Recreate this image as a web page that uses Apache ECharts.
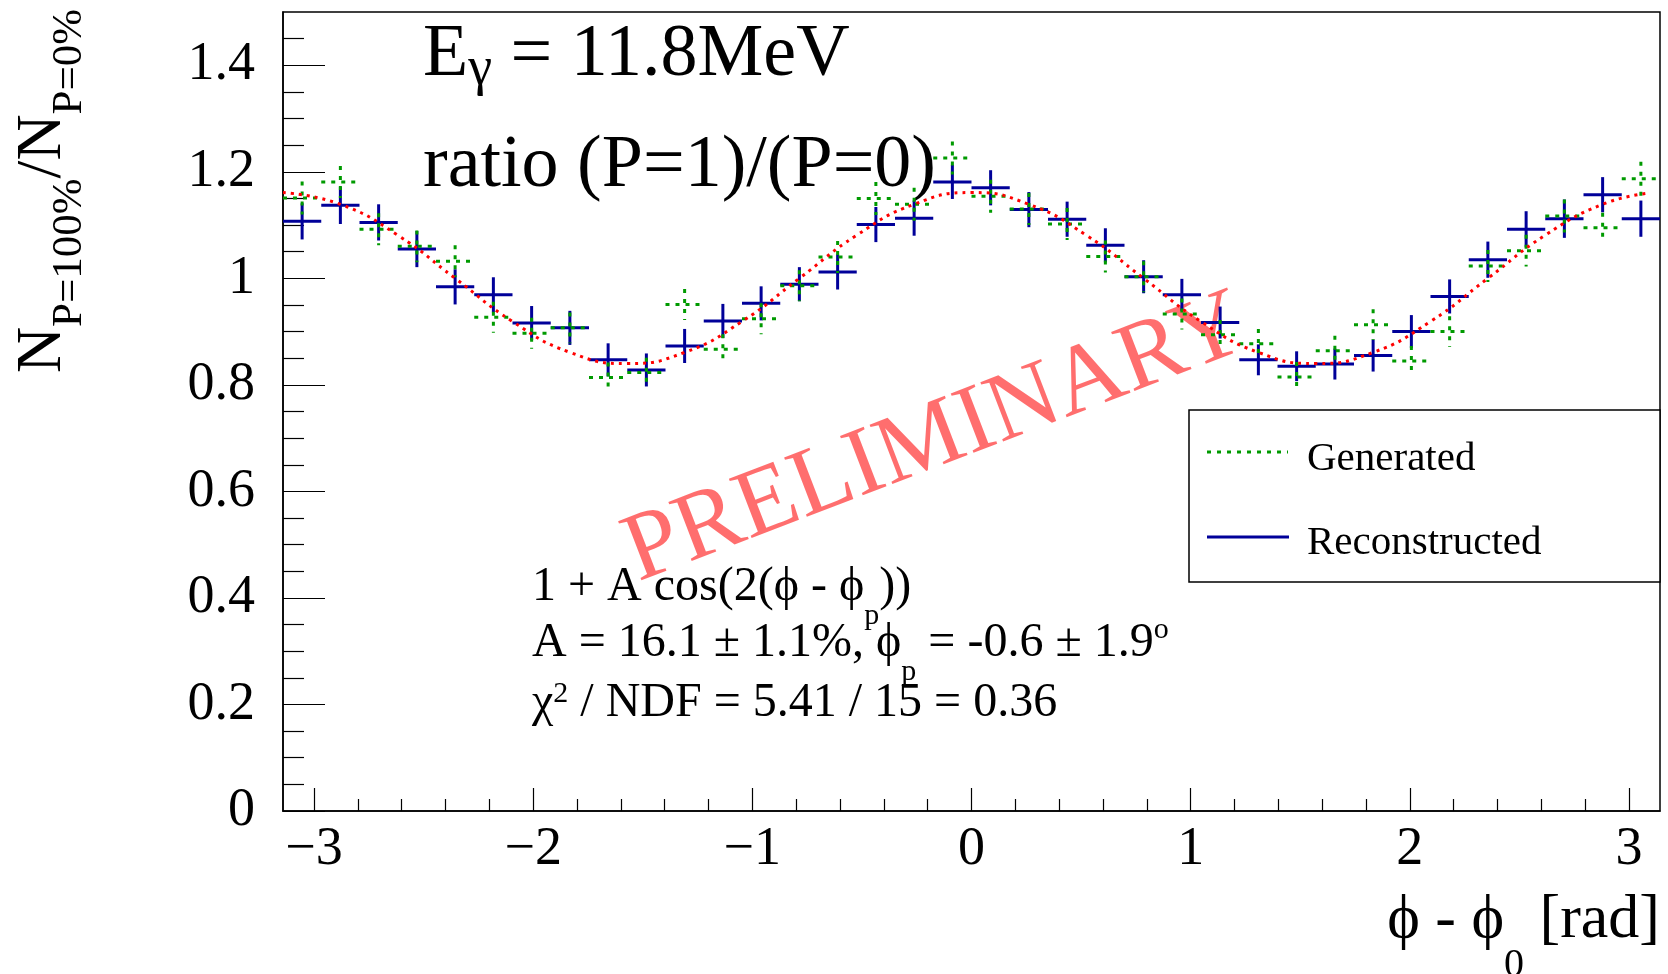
<!DOCTYPE html>
<html>
<head>
<meta charset="utf-8">
<script src="https://cdn.jsdelivr.net/npm/echarts@6/dist/echarts.min.js"></script>
<style>
  html, body { margin: 0; padding: 0; background: #fff; }
  #chart { width: 1668px; height: 974px; }
</style>
</head>
<body>
<div id="chart"></div>
<script>
// bin centres in degrees (36 bins of 10 deg)
var binDeg = [-175, -165, -155, -145, -135, -125, -115, -105, -95, -85, -75, -65,
  -55, -45, -35, -25, -15, -5, 5, 15, 25, 35, 45, 55,
  65, 75, 85, 95, 105, 115, 125, 135, 145, 155, 165, 175];
var binWidthDeg = 10;

// Reconstructed (blue)
var recVal = [1.107, 1.137, 1.105, 1.055, 0.984, 0.969, 0.916, 0.907, 0.847, 0.828, 0.873, 0.920,
  0.953, 0.989, 1.012, 1.101, 1.113, 1.181, 1.170, 1.129, 1.111, 1.062, 1.003, 0.969,
  0.917, 0.847, 0.835, 0.839, 0.855, 0.900, 0.966, 1.035, 1.092, 1.112, 1.157, 1.112];
var recErr = [0.034, 0.035, 0.034, 0.034, 0.033, 0.033, 0.032, 0.032, 0.031, 0.031, 0.032, 0.032,
  0.032, 0.032, 0.033, 0.033, 0.033, 0.032, 0.033, 0.033, 0.033, 0.032, 0.031, 0.030,
  0.030, 0.029, 0.028, 0.029, 0.030, 0.031, 0.032, 0.034, 0.034, 0.036, 0.033, 0.034];

// Generated (green)
var genVal = [1.151, 1.181, 1.092, 1.060, 1.032, 0.927, 0.897, 0.907, 0.814, 0.823, 0.951, 0.867,
  0.924, 0.986, 1.040, 1.150, 1.139, 1.226, 1.154, 1.130, 1.102, 1.041, 1.003, 0.933,
  0.894, 0.877, 0.815, 0.864, 0.913, 0.845, 0.900, 1.023, 1.052, 1.117, 1.095, 1.187];
var genErr = [0.031, 0.030, 0.030, 0.030, 0.030, 0.029, 0.029, 0.029, 0.028, 0.028, 0.029, 0.028,
  0.029, 0.029, 0.030, 0.031, 0.031, 0.031, 0.031, 0.030, 0.030, 0.030, 0.029, 0.029,
  0.028, 0.028, 0.028, 0.028, 0.029, 0.028, 0.029, 0.030, 0.030, 0.031, 0.028, 0.032];

// fit curve (red dotted)
var fitDeg = [-180, -165, -150, -135, -120, -105, -90, -75, -60, -45, -30, -15,
  0, 15, 30, 45, 60, 75, 90, 105, 120, 135, 150, 165, 177];
var fitVal = [1.161, 1.139, 1.081, 1.000, 0.919, 0.861, 0.840, 0.861, 0.919, 1.000, 1.081, 1.139,
  1.161, 1.139, 1.081, 1.000, 0.919, 0.861, 0.840, 0.861, 0.919, 1.000, 1.081, 1.139, 1.160];

// axis ticks
var xMajorTicks = [-3, -2, -1, 0, 1, 2, 3];
var yMajorTicks = [0, 0.2, 0.4, 0.6, 0.8, 1, 1.2, 1.4];

var xMinorTicks = [];
for (var i = -15; i <= 15; i++) {
  if (i % 5 !== 0) xMinorTicks.push(Math.round(i * 20) / 100);
}
var yMinorTicks = [];
for (var j = 1; j < 30; j++) {
  if (j % 4 !== 0) yMinorTicks.push(Math.round(j * 5) / 100);
}

var DEG = Math.PI / 180;
var FONT = 'Liberation Serif';
var BLUE = '#000099';
var GREEN = '#009a00';

function crossRenderer(color, dash) {
  return function (params, api) {
    var x = api.value(0), y = api.value(1), e = api.value(2);
    var hw = binWidthDeg * DEG / 2;
    var l = api.coord([x - hw, y]);
    var r = api.coord([x + hw, y]);
    var t = api.coord([x, y + e]);
    var b = api.coord([x, y - e]);
    var style = { stroke: color, lineWidth: 3, lineDash: dash, fill: null };
    return {
      type: 'group',
      children: [
        { type: 'line', shape: { x1: l[0], y1: l[1], x2: r[0], y2: r[1] }, style: style },
        { type: 'line', shape: { x1: t[0], y1: t[1], x2: b[0], y2: b[1] }, style: style }
      ]
    };
  };
}

var recData = binDeg.map(function (d, k) { return [d * DEG, recVal[k], recErr[k]]; });
var genData = binDeg.map(function (d, k) { return [d * DEG, genVal[k], genErr[k]]; });
var fitData = fitDeg.map(function (d, k) { return [d * DEG, fitVal[k]]; });

var chart = echarts.init(document.getElementById('chart'));

var option = {
  animation: false,
  backgroundColor: '#fff',
  grid: {
    left: 283, right: 8, top: 12, bottom: 163,
    show: true, borderColor: '#000', borderWidth: 1.5, backgroundColor: 'transparent'
  },
  xAxis: [
    {
      type: 'value', min: -Math.PI, max: Math.PI, position: 'bottom',
      axisLine: { show: true, onZero: false, lineStyle: { color: '#000', width: 1.5 } },
      axisTick: { show: true, inside: true, length: 23, customValues: xMajorTicks,
        lineStyle: { color: '#000', width: 1.2 } },
      axisLabel: {
        customValues: xMajorTicks, margin: 12,
        fontFamily: FONT, fontSize: 54, color: '#000',
        formatter: function (v) { return String(v).replace('-', '\u2212'); }
      },
      splitLine: { show: false }
    },
    {
      type: 'value', min: -Math.PI, max: Math.PI, position: 'bottom', offset: 0,
      axisLine: { show: false, onZero: false },
      axisTick: { show: true, inside: true, length: 12, customValues: xMinorTicks,
        lineStyle: { color: '#000', width: 1.2 } },
      axisLabel: { show: false },
      splitLine: { show: false }
    }
  ],
  yAxis: [
    {
      type: 'value', min: 0, max: 1.5, position: 'left',
      axisLine: { show: true, onZero: false, lineStyle: { color: '#000', width: 1.5 } },
      axisTick: { show: true, inside: true, length: 42, customValues: yMajorTicks,
        lineStyle: { color: '#000', width: 1.2 } },
      axisLabel: { customValues: yMajorTicks, margin: 28,
        fontFamily: FONT, fontSize: 54, color: '#000' },
      splitLine: { show: false }
    },
    {
      type: 'value', min: 0, max: 1.5, position: 'left', offset: 0,
      axisLine: { show: false, onZero: false },
      axisTick: { show: true, inside: true, length: 21, customValues: yMinorTicks,
        lineStyle: { color: '#000', width: 1.2 } },
      axisLabel: { show: false },
      splitLine: { show: false }
    }
  ],
  series: [
    {
      name: 'Reconstructed', type: 'custom', xAxisIndex: 0, yAxisIndex: 0,
      renderItem: crossRenderer(BLUE, null),
      encode: { x: 0, y: 1 }, data: recData, z: 3, clip: true
    },
    {
      name: 'Generated', type: 'custom', xAxisIndex: 0, yAxisIndex: 0,
      renderItem: crossRenderer(GREEN, [4, 6]),
      encode: { x: 0, y: 1 }, data: genData, z: 4, clip: true
    },
    {
      name: 'fit', type: 'line', xAxisIndex: 0, yAxisIndex: 0,
      data: fitData, smooth: true, symbol: 'none', z: 5,
      lineStyle: { color: '#ff0000', width: 3, type: [3, 5] }
    }
  ],
  graphic: [
    // watermark
    {
      type: 'text', x: 936, y: 440, rotation: 21 * DEG, z: 1,
      style: { text: 'PRELIMINARY', fontFamily: FONT, fontSize: 97,
        fill: 'rgba(255,0,0,0.57)', align: 'center', verticalAlign: 'middle' }
    },
    // y axis title
    {
      type: 'text', x: 43, y: 191, rotation: Math.PI / 2,
      style: {
        text: '{n|N}{s|P=100%}{n|/N}{s|P=0%}',
        align: 'center', verticalAlign: 'middle',
        rich: {
          n: { fontFamily: FONT, fontSize: 64, lineHeight: 97, fill: '#000' },
          s: { fontFamily: FONT, fontSize: 43, lineHeight: 43, verticalAlign: 'bottom', fill: '#000' }
        }
      }
    },
    // x axis title
    {
      type: 'text', x: 1660, y: 921,
      style: {
        text: '{m|\u03D5 - \u03D5}{s|0}{m| [rad]}',
        align: 'right', verticalAlign: 'middle',
        rich: {
          m: { fontFamily: FONT, fontSize: 62, lineHeight: 128, fill: '#000' },
          s: { fontFamily: FONT, fontSize: 40, lineHeight: 40, verticalAlign: 'bottom', fill: '#000' }
        }
      }
    },
    // title lines
    {
      type: 'text', x: 423, y: 56,
      style: {
        text: '{m|E}{s|\u03B3}{m| = 11.8MeV}',
        align: 'left', verticalAlign: 'middle',
        rich: {
          m: { fontFamily: FONT, fontSize: 74, lineHeight: 82, fill: '#000' },
          s: { fontFamily: FONT, fontSize: 54, lineHeight: 54, verticalAlign: 'bottom', fill: '#000' }
        }
      }
    },
    {
      type: 'text', x: 423, y: 167,
      style: { text: 'ratio (P=1)/(P=0)', fontFamily: FONT, fontSize: 74, fill: '#000',
        align: 'left', verticalAlign: 'middle' }
    },
    // fit results
    {
      type: 'text', x: 532, y: 587,
      style: {
        text: '{m|1 + A cos(2(\u03D5 - \u03D5}{s|p}{m|))}',
        align: 'left', verticalAlign: 'middle',
        rich: {
          m: { fontFamily: FONT, fontSize: 48, lineHeight: 88, fill: '#000' },
          s: { fontFamily: FONT, fontSize: 30, lineHeight: 30, verticalAlign: 'bottom', fill: '#000' }
        }
      }
    },
    {
      type: 'text', x: 532, y: 643,
      style: {
        text: '{m|A = 16.1 \u00B1 1.1%, \u03D5}{s|p}{m| = -0.6 \u00B1 1.9}{u|o}',
        align: 'left', verticalAlign: 'middle',
        rich: {
          m: { fontFamily: FONT, fontSize: 48, lineHeight: 88, fill: '#000' },
          s: { fontFamily: FONT, fontSize: 30, lineHeight: 30, verticalAlign: 'bottom', fill: '#000' },
          u: { fontFamily: FONT, fontSize: 30, lineHeight: 30, verticalAlign: 'top',
            padding: [16, 0, 0, 0], fill: '#000' }
        }
      }
    },
    {
      type: 'text', x: 532, y: 703,
      style: {
        text: '{m|\u03C7}{u|2}{m| / NDF = 5.41 / 15 = 0.36}',
        align: 'left', verticalAlign: 'middle',
        rich: {
          m: { fontFamily: FONT, fontSize: 48, lineHeight: 48, fill: '#000' },
          u: { fontFamily: FONT, fontSize: 30, lineHeight: 30, verticalAlign: 'top', fill: '#000' }
        }
      }
    },
    // legend box
    {
      type: 'rect', shape: { x: 1189, y: 410, width: 471, height: 172 }, z: 10,
      style: { fill: '#fff', stroke: '#000', lineWidth: 1.5 }
    },
    {
      type: 'line', shape: { x1: 1207, y1: 452, x2: 1288, y2: 452 }, z: 11,
      style: { stroke: GREEN, lineWidth: 3, lineDash: [4, 6] }
    },
    {
      type: 'text', x: 1307, y: 459, z: 11,
      style: { text: 'Generated', fontFamily: FONT, fontSize: 41, fill: '#000',
        align: 'left', verticalAlign: 'middle' }
    },
    {
      type: 'line', shape: { x1: 1207, y1: 537, x2: 1289, y2: 537 }, z: 11,
      style: { stroke: BLUE, lineWidth: 3 }
    },
    {
      type: 'text', x: 1307, y: 543, z: 11,
      style: { text: 'Reconstructed', fontFamily: FONT, fontSize: 41, fill: '#000',
        align: 'left', verticalAlign: 'middle' }
    }
  ]
};

chart.setOption(option);
</script>
</body>
</html>
